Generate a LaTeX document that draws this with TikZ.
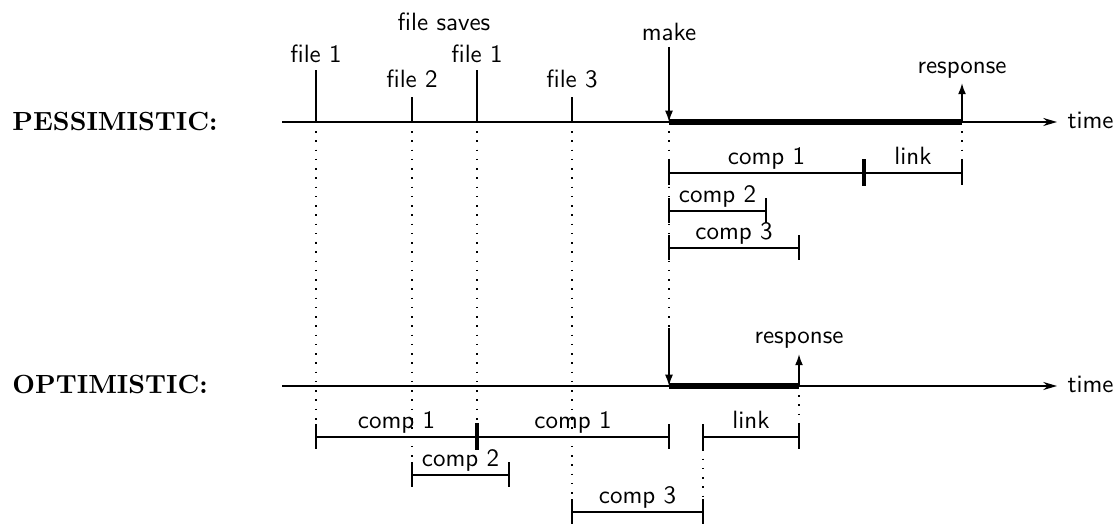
\documentclass[tikz,border=0pt]{standalone}
\usetikzlibrary{arrows.meta,calc}

% one unit = one pixel of the drawing grid, y grows downwards
\tikzset{
  lab/.style={font=\sffamily, inner sep=0pt},
  head/.style={font=\fontsize{10.5}{12}\selectfont\bfseries, inner sep=0pt, anchor=base west},
  axis/.style={line width=0.7pt, -{Stealth[length=5.5pt,width=3.2pt]}},
  savetick/.style={line width=0.9pt},
  bar/.style={line width=0.7pt},
  sepbar/.style={line width=1.7pt},
  busy/.style={line width=2.3pt},
  guide/.style={line width=0.7pt, dash pattern=on 0.6pt off 3.1pt},
  evt/.style={line width=0.7pt, -{Latex[length=4.5pt,width=3.2pt]}},
}

% interval bar with end ticks and a centred label
% #1 name, #2 start x, #3 end x, #4 y, #5 label
\newcommand{\ivl}[5]{%
  \coordinate (#1-a) at (#2,#4);
  \coordinate (#1-b) at (#3,#4);
  \draw[bar] (#1-a) -- (#1-b);
  \draw[bar] (#1-a) ++(0,-12.5) -- ++(0,25);
  \draw[bar] (#1-b) ++(0,-12.5) -- ++(0,25);
  \path ($(#1-a)!0.5!(#1-b)$) ++(0,-8.5) node[lab,anchor=base] (#1-l) {#5};
}

\begin{document}
\begin{tikzpicture}[x=0.4pt,y=-0.4pt]
\useasboundingbox (0,0) rectangle (1119,524);

% ---------------- pessimistic ----------------
\node[head] (pess) at (12,130.5) {PESSIMISTIC:};
\coordinate (p-start) at (282,122);
\coordinate (p-end) at (1057,122);
\draw[axis] (p-start) -- (p-end);
\node[lab,anchor=base west] (p-time) at (1067,128.5) {time};

% file saves
\coordinate (f1) at (316,122);
\coordinate (f2) at (412,122);
\coordinate (f1b) at (477,122);
\coordinate (f3) at (572,122);
\draw[savetick] (f1) -- ++(0,-52);
\draw[savetick] (f2) -- ++(0,-25);
\draw[savetick] (f1b) -- ++(0,-52);
\draw[savetick] (f3) -- ++(0,-25);
\node[lab,anchor=base] (f1-l) at (316,63) {file 1};
\node[lab,anchor=base] (f2-l) at (412,88) {file 2};
\node[lab,anchor=base] (f1b-l) at (477,63) {file 1};
\node[lab,anchor=base] (f3-l) at (572,88) {file 3};
\node[lab,anchor=base] (saves) at (444,31) {file saves};

% make and response
\coordinate (mk) at (669,122);
\coordinate (rs) at (962,122);
\coordinate (mk-top) at (669,47);
\coordinate (rs-top) at (962,83);
\node[lab,anchor=base] (mk-l) at (669,41) {make};
\node[lab,anchor=base] (rs-l) at (962,74) {response};
\draw[busy] (mk) -- (rs);
\draw[evt] (mk-top) -- (mk);
\draw[evt] (rs) -- (rs-top);

% compile / link intervals
\ivl{pc1}{669}{864}{173}{comp 1}
\ivl{plk}{864}{962}{173}{link}
\ivl{pc2}{669}{766}{211}{comp 2}
\ivl{pc3}{669}{799}{248}{comp 3}
\draw[sepbar] (pc1-b) ++(0,-13.5) -- ++(0,27);

% ---------------- optimistic ----------------
\node[head] (opt) at (12,393.5) {OPTIMISTIC:};
\coordinate (o-start) at (282,386);
\coordinate (o-end) at (1057,386);
\draw[axis] (o-start) -- (o-end);
\node[lab,anchor=base west] (o-time) at (1067,392.5) {time};

\coordinate (omk) at (669,386);
\coordinate (ors) at (799,386);
\coordinate (omk-top) at (669,328);
\coordinate (ors-top) at (799,354);
\node[lab,anchor=base] (ors-l) at (799,344) {response};
\draw[busy] (omk) -- (ors);
\draw[evt] (omk-top) -- (omk);
\draw[evt] (ors) -- (ors-top);

\ivl{oc1}{316}{477}{437}{comp 1}
\ivl{oc1b}{477}{669}{437}{comp 1}
\ivl{olk}{703}{799}{437}{link}
\ivl{oc2}{412}{509}{475}{comp 2}
\ivl{oc3}{572}{703}{512}{comp 3}
\draw[sepbar] (oc1-b) ++(0,-13.5) -- ++(0,27);

% ---------------- dotted guides ----------------
\draw[guide] (f1) -- ($(oc1-a)+(0,-12.5)$);
\draw[guide] (f2) -- ($(oc2-a)+(0,-12.5)$);
\draw[guide] (f1b) -- ($(oc1-b)+(0,-13.5)$);
\draw[guide] (f3) -- ($(oc3-a)+(0,-12.5)$);
\draw[guide] (mk) -- (omk-top);
\draw[guide] (rs) -- ($(plk-b)+(0,-12.5)$);
\draw[guide] (ors) -- ($(olk-b)+(0,-12.5)$);
\draw[guide] ($(olk-a)+(0,12.5)$) -- ($(oc3-b)+(0,-12.5)$);
\end{tikzpicture}
\end{document}
